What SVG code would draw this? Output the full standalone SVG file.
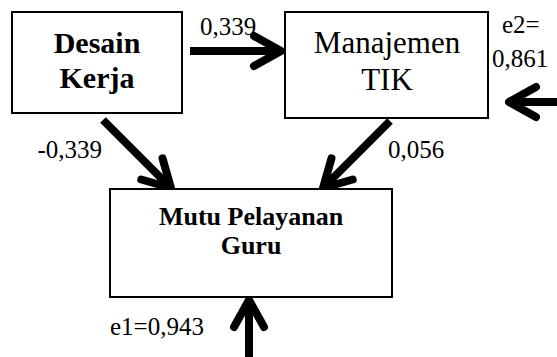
<svg xmlns="http://www.w3.org/2000/svg" width="557" height="357" viewBox="0 0 557 357">
<style>
.box{fill:#fff;stroke:#000;stroke-width:2}
.t{font-family:"Liberation Serif","Times New Roman",serif;fill:#000}
.b{font-weight:bold}
.conn{stroke:#000;stroke-width:8;fill:none;marker-end:url(#ah)}
</style>
<defs>
<marker id="ah" markerUnits="userSpaceOnUse" viewBox="-40 -24 48 48" refX="0" refY="0" markerWidth="48" markerHeight="48" orient="auto" overflow="visible">
<path d="M-27,-15 L0,0 L-27,15" fill="none" stroke="#000" stroke-width="8" stroke-linecap="round" stroke-linejoin="round"/>
</marker>
</defs>
<rect width="557" height="357" fill="#fff"/>
<g id="connectors">
<line class="conn" x1="190" y1="51" x2="281" y2="51"/>
<line class="conn" x1="103" y1="120" x2="171" y2="188"/>
<line class="conn" x1="390" y1="121" x2="323" y2="188"/>
<line class="conn" x1="557" y1="102" x2="509" y2="102"/>
<line class="conn" x1="249" y1="357" x2="249" y2="300"/>
</g>
<g id="desain-kerja">
<rect class="box" x="12" y="12" width="170" height="101"/>
<text class="t b" x="97" y="53" font-size="30" text-anchor="middle">Desain</text>
<text class="t b" x="97" y="88" font-size="30" text-anchor="middle">Kerja</text>
</g>
<g id="manajemen-tik">
<rect class="box" x="285" y="12" width="203" height="106"/>
<text class="t" x="387" y="53" font-size="31" text-anchor="middle">Manajemen</text>
<text class="t" x="387" y="90" font-size="31" text-anchor="middle">TIK</text>
</g>
<g id="mutu-pelayanan-guru">
<rect class="box" x="110" y="189" width="282" height="108"/>
<text class="t b" x="251" y="225" font-size="26" text-anchor="middle">Mutu Pelayanan</text>
<text class="t b" x="251" y="254" font-size="26" text-anchor="middle">Guru</text>
</g>
<g id="labels">
<text class="t" x="200" y="35" font-size="25">0,339</text>
<text class="t" x="102" y="158" font-size="25" text-anchor="end">-0,339</text>
<text class="t" x="388" y="158" font-size="25">0,056</text>
<text class="t" x="502" y="33" font-size="25">e2=</text>
<text class="t" x="492" y="67" font-size="25">0,861</text>
<text class="t" x="110" y="335" font-size="25">e1=0,943</text>
</g>
</svg>
